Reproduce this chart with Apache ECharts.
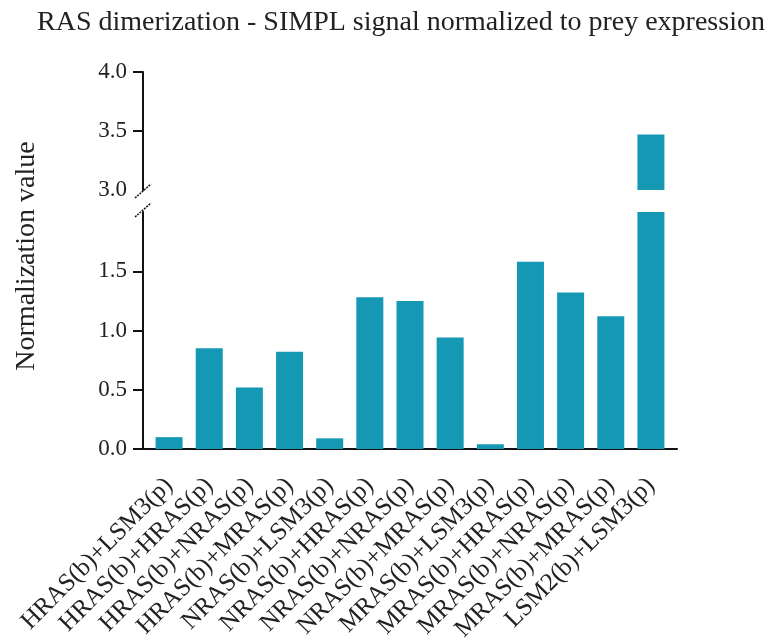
<!DOCTYPE html>
<html>
<head>
<meta charset="utf-8">
<script src="https://cdn.jsdelivr.net/npm/echarts@6/dist/echarts.min.js"></script>
<style>
  html, body { margin: 0; padding: 0; background: #fff; }
  #chart { width: 775px; height: 642px; }
</style>
</head>
<body>
<div id="chart"></div>
<script>
// categories (bait + prey)
const categories = [
  "HRAS(b)+LSM3(p)", "HRAS(b)+HRAS(p)", "HRAS(b)+NRAS(p)", "HRAS(b)+MRAS(p)",
  "NRAS(b)+LSM3(p)", "NRAS(b)+HRAS(p)", "NRAS(b)+NRAS(p)", "NRAS(b)+MRAS(p)",
  "MRAS(b)+LSM3(p)", "MRAS(b)+HRAS(p)", "MRAS(b)+NRAS(p)", "MRAS(b)+MRAS(p)",
  "LSM2(b)+LSM3(p)"
];
// normalized values
const values = [0.10, 0.85, 0.52, 0.82, 0.09, 1.28, 1.25, 0.94, 0.04, 1.58, 1.32, 1.12, 3.47];
// tick labels of the broken axis
const lowerTicks = [0, 0.5, 1.0, 1.5];
const upperTicks = [3.0, 3.5, 4.0];

const barColor = "#1598b4";
const font = "Liberation Serif";
const txt = "#222";

const chart = echarts.init(document.getElementById("chart"));

const option = {
  animation: false,
  title: {
    text: "RAS dimerization - SIMPL signal normalized to prey expression",
    left: 396,
    textAlign: "center",
    top: 4,
    textStyle: { fontFamily: font, fontSize: 28, fontWeight: "normal", color: txt }
  },
  grid: [
    // lower part 0 - 2
    { left: 149, right: 104, top: 212, bottom: 193, outerBoundsMode: "none" },
    // upper part 3 - 4
    { left: 149, right: 104, top: 72, bottom: 452, outerBoundsMode: "none" },
    // only for the full length x axis line
    { left: 143, right: 98, top: 212, bottom: 193, outerBoundsMode: "none" }
  ],
  xAxis: [
    {
      type: "category", gridIndex: 0, data: categories,
      axisLine: { show: false },
      axisTick: { alignWithLabel: true, length: 10, lineStyle: { color: "#111", width: 2 } },
      axisLabel: {
        rotate: 45, interval: 0, margin: 33,
        fontFamily: font, fontSize: 25, color: txt
      }
    },
    { type: "category", gridIndex: 1, data: categories, show: false },
    {
      type: "value", gridIndex: 2, min: 0, max: 1,
      axisLine: { show: true, lineStyle: { color: "#111", width: 2 } },
      axisTick: { show: false }, axisLabel: { show: false }, splitLine: { show: false }
    }
  ],
  yAxis: [
    {
      type: "value", gridIndex: 0, min: 0, max: 2, interval: 0.5, offset: 6,
      axisLine: { show: true, lineStyle: { color: "#111", width: 2 } },
      axisTick: { show: true, length: 10, customValues: lowerTicks, lineStyle: { color: "#111", width: 2 } },
      axisLabel: {
        customValues: lowerTicks, margin: 16,
        formatter: v => v.toFixed(1),
        fontFamily: font, fontSize: 23, color: txt
      },
      splitLine: { show: false }
    },
    {
      type: "value", gridIndex: 1, min: 3, max: 4, interval: 0.5, offset: 6,
      axisLine: { show: true, lineStyle: { color: "#111", width: 2 } },
      axisTick: { show: true, length: 10, customValues: [3.5, 4.0], lineStyle: { color: "#111", width: 2 } },
      axisLabel: {
        customValues: upperTicks, margin: 16,
        formatter: v => v.toFixed(1),
        fontFamily: font, fontSize: 23, color: txt
      },
      splitLine: { show: false }
    },
    { type: "value", gridIndex: 2, show: false }
  ],
  series: [
    {
      type: "bar", xAxisIndex: 0, yAxisIndex: 0, data: values,
      barWidth: 27, itemStyle: { color: barColor }
    },
    {
      type: "bar", xAxisIndex: 1, yAxisIndex: 1, data: values,
      barWidth: 27, itemStyle: { color: barColor }
    }
  ]
};

chart.setOption(option);

// axis break marks and the y axis name
const lowTop = chart.convertToPixel({ yAxisIndex: 0 }, 2);
const upBottom = chart.convertToPixel({ yAxisIndex: 1 }, 3);
const axisX = 143;
function slash(cy) {
  return {
    type: "line",
    shape: { x1: axisX - 8, y1: cy + 7, x2: axisX + 8, y2: cy - 7 },
    style: { stroke: "#111", lineWidth: 1.5, lineDash: [2, 1] }
  };
}
chart.setOption({
  graphic: [
    slash(upBottom + 1),
    slash(lowTop - 2),
    {
      type: "text",
      x: 27, y: 256,
      rotation: Math.PI / 2,
      style: {
        text: "Normalization value",
        fontFamily: font, fontSize: 28, fill: txt,
        align: "center", verticalAlign: "middle"
      }
    }
  ]
});
</script>
</body>
</html>
